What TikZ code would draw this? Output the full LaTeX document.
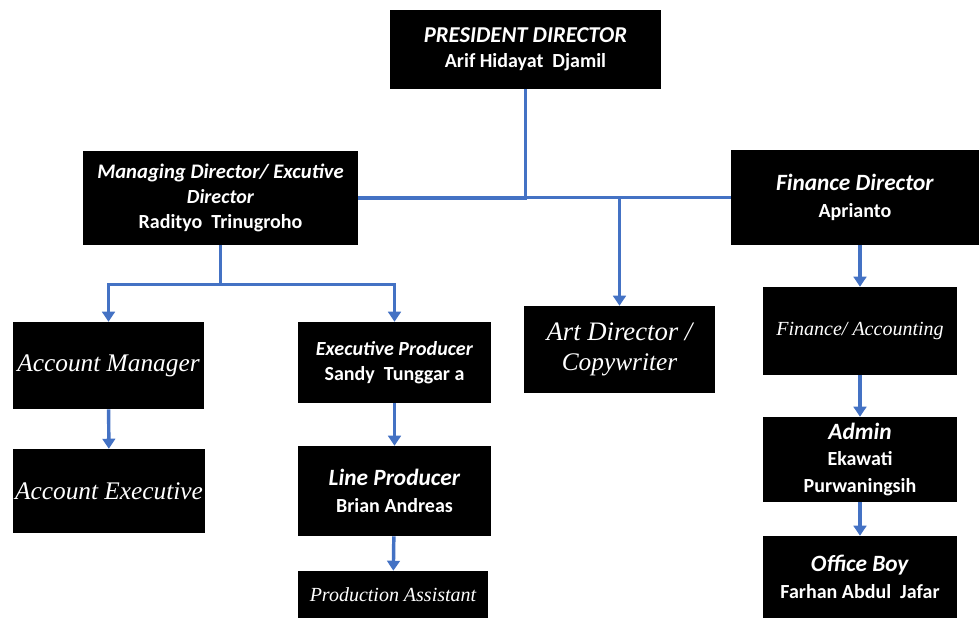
\documentclass[tikz,border=0pt]{standalone}
\usepackage{fontspec}
\setmainfont{Carlito}
\newfontfamily\seriffont{Liberation Serif}
\usetikzlibrary{arrows.meta}
\definecolor{lineablue}{HTML}{4472C4}
\begin{document}
\begin{tikzpicture}[x=0.75pt,y=-0.75pt]
\tikzset{
    caja/.style 2 args={fill=black, text=white, align=center, inner sep=0pt,
        minimum width=#1*0.75pt, minimum height=#2*0.75pt},
    titulo/.style={font=\fontsize{15}{19}\selectfont\bfseries},
    grande/.style={font=\fontsize{17.5}{20}\selectfont\bfseries},
    serifa/.style={font=\fontsize{19}{22}\selectfont\seriffont\itshape},
    serifachica/.style={font=\fontsize{15}{18}\selectfont\seriffont\itshape},
    linea/.style={draw=lineablue, line width=2.6pt},
    flecha/.style={linea, -{Triangle[width=9.5pt,length=7.5pt]}}
}
\useasboundingbox (0,0) rectangle (979,618);
% first level
\node[caja={271}{79}, titulo] (pres) at (525.5,49.5)
    {{\fontsize{17}{19}\selectfont\textit{PRESIDENT DIRECTOR}}\\Arif Hidayat~ Djamil};
\node[caja={275}{94}, titulo] (md) at (220.5,198)
    {\fontsize{15.5}{19.5}\selectfont\textit{Managing Director/ Excutive}\\\textit{Director}\\Radityo~ Trinugroho};
\node[caja={248}{95}, grande] (fd) at (855,197.5)
    {\textit{Finance Director}\\{\fontsize{15}{19}\selectfont Aprianto}};
% second level
\node[caja={191}{87}, serifa] (am) at (108.5,365.5) {Account Manager};
\node[caja={192}{84}, serifa] (ae) at (109,491) {Account Executive};
\node[caja={193}{81}, titulo] (ep) at (394.5,362.5)
    {\textit{Executive Producer}\\Sandy~ Tunggar a};
\node[caja={193}{90}, grande] (lp) at (394.5,491)
    {\textit{Line Producer}\\{\fontsize{15}{19}\selectfont Brian Andreas}};
\node[caja={190}{47}, serifachica] (pa) at (393,594.5) {Production Assistant};
\node[caja={191}{87}, serifa] (art) at (619.5,349.5)
    {\fontsize{20}{23}\selectfont Art Director /\\Copywriter};
\node[caja={194}{88}, serifachica] (fa) at (860,331) {Finance/ Accounting};
\node[caja={194}{85}, grande] (adm) at (860,459.5)
    {\textit{Admin}\\{\fontsize{15}{19}\selectfont Ekawati}\\{\fontsize{15}{19}\selectfont Purwaningsih}};
\node[caja={194}{82}, grande] (ob) at (860,577)
    {\textit{Office Boy}\\{\fontsize{15}{19}\selectfont Farhan Abdul~ Jafar}};
% connectors
\draw[linea] (pres.south) |- (md.east);
\draw[linea] (pres.south) |- (fd.west);
\draw[flecha] (art.north |- md.east) -- (art.north);
\draw[linea] (md.south) -- ++(0,39) coordinate (mdj);
\draw[flecha] (mdj) -| (am.north);
\draw[flecha] (mdj) -| (ep.north);
\draw[flecha] (am) -- (ae);
\draw[flecha] (ep) -- (lp);
\draw[flecha] (lp) -- (pa);
\draw[flecha] (fa.north |- fd.south) -- (fa.north);
\draw[flecha] (fa) -- (adm);
\draw[flecha] (adm) -- (ob);
\end{tikzpicture}
\end{document}
